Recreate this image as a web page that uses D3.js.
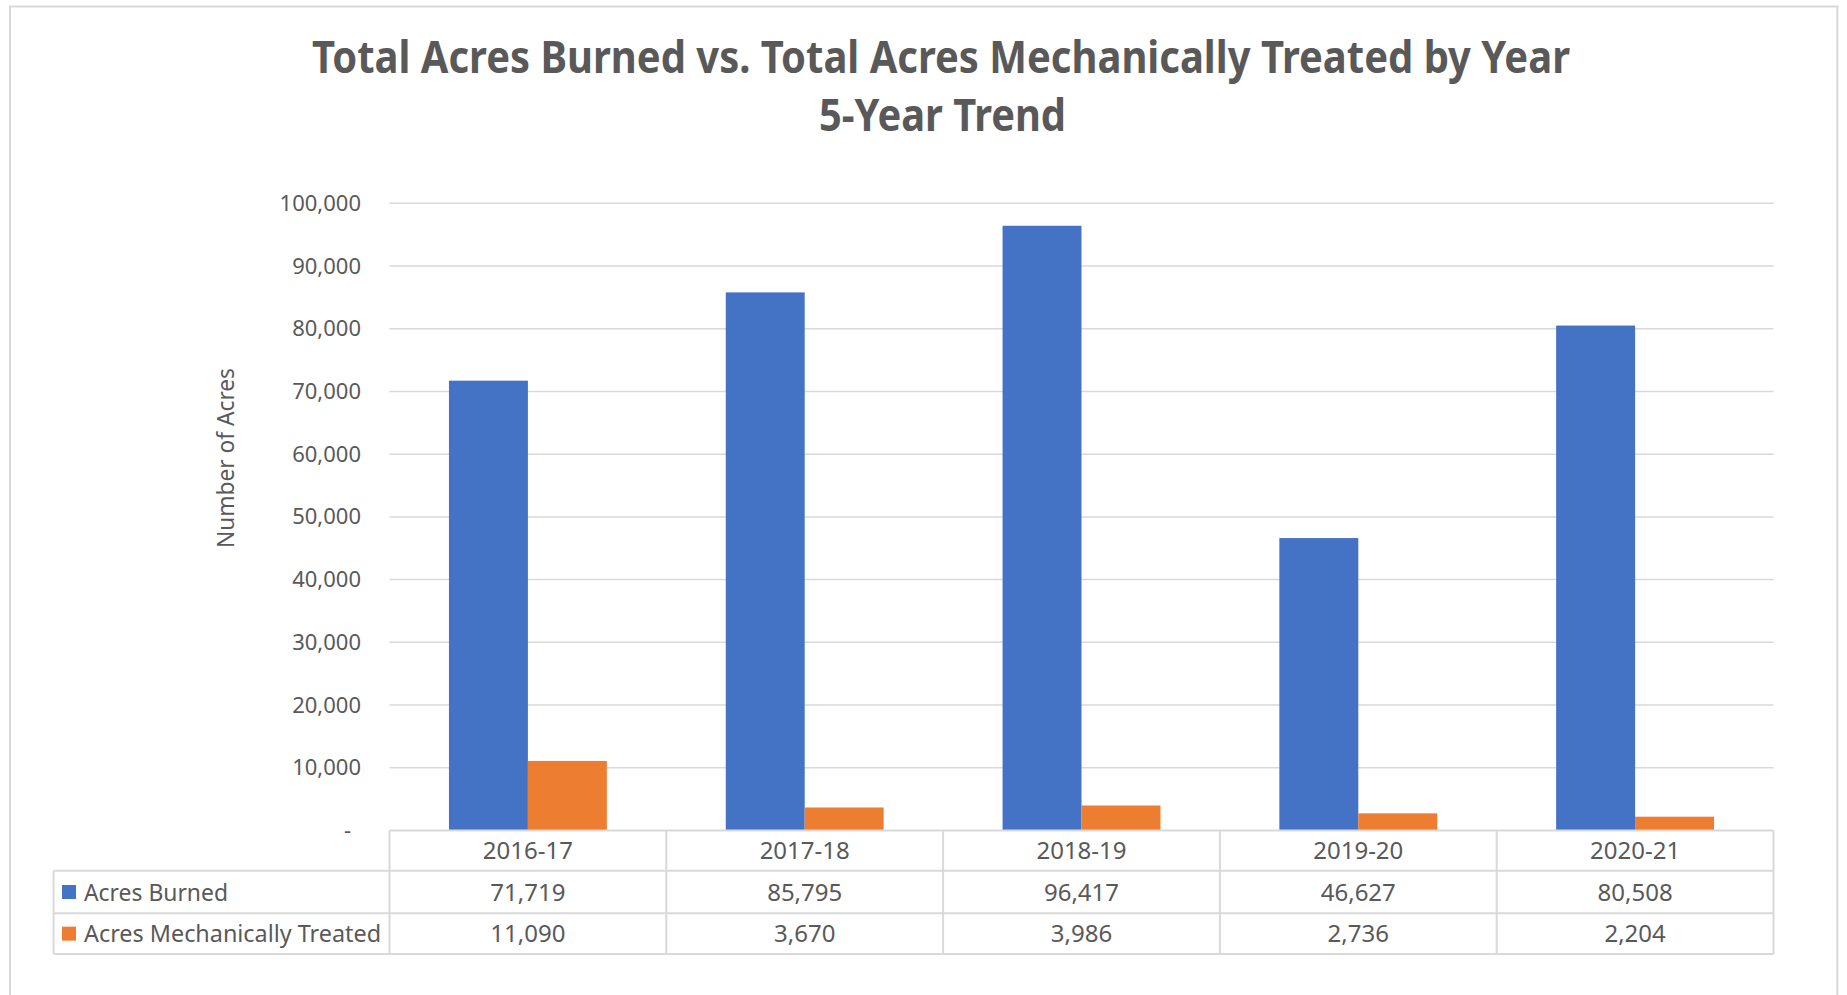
<!DOCTYPE html>
<html>
<head>
<meta charset="utf-8">
<script src="https://cdn.jsdelivr.net/npm/d3@7"></script>
<style>
  html, body { margin: 0; padding: 0; background: #fff; }
  svg { display: block; }
  text { font-family: "Noto Sans", "Open Sans", sans-serif; fill: #595959; }
</style>
</head>
<body>
<script>
const categories = ["2016-17", "2017-18", "2018-19", "2019-20", "2020-21"];
const seriesNames = ["Acres Burned", "Acres Mechanically Treated"];
const acresBurned = [71719, 85795, 96417, 46627, 80508];
const acresTreated = [11090, 3670, 3986, 2736, 2204];
const seriesColors = ["#4472C4", "#ED7D31"];
const yTicks = [0, 10000, 20000, 30000, 40000, 50000, 60000, 70000, 80000, 90000, 100000];
const titleLines = ["Total Acres Burned vs. Total Acres Mechanically Treated by Year", "5-Year Trend"];
const yAxisTitle = "Number of Acres";

const seriesValues = [acresBurned, acresTreated];
const legendLabelWidths = [144, 297];
const W = 1847, H = 995;
const plot = { left: 389.5, right: 1773.5, top: 203.3, bottom: 830.5 };
const tableRows = [830.5, 870.7, 913.3, 954];
const tableLeft = 53.6;
const grid = "#D9D9D9";

const svg = d3.select("body").append("svg").attr("width", W).attr("height", H);

// outer chart border
svg.append("path")
  .attr("d", `M10,${H + 5} L10,6.5 L1837.3,6.5 L1837.3,${H + 5}`)
  .attr("fill", "none").attr("stroke", grid).attr("stroke-width", 2);

// title
svg.append("text").attr("x", 941).attr("y", 72.5)
  .attr("text-anchor", "middle").attr("font-weight", "bold").attr("font-size", 44)
  .attr("textLength", 1258).attr("lengthAdjust", "spacingAndGlyphs")
  .text(titleLines[0]);
svg.append("text").attr("x", 942.5).attr("y", 131)
  .attr("text-anchor", "middle").attr("font-weight", "bold").attr("font-size", 44)
  .attr("textLength", 247).attr("lengthAdjust", "spacingAndGlyphs")
  .text(titleLines[1]);

const x0 = d3.scaleBand().domain(categories).range([plot.left, plot.right]).padding(0);
const bw = x0.bandwidth();
const x1 = d3.scaleBand().domain(seriesNames).range([bw * 0.2148, bw * (1 - 0.2148)]).padding(0);
const y = d3.scaleLinear().domain([0, 100000]).range([plot.bottom, plot.top]);

// gridlines
svg.append("g").selectAll("line").data(yTicks.filter(d => d > 0)).join("line")
  .attr("x1", plot.left).attr("x2", plot.right)
  .attr("y1", d => y(d)).attr("y2", d => y(d))
  .attr("stroke", grid).attr("stroke-width", 1.5);

// y axis labels
const yAxis = d3.axisLeft(y).tickValues(yTicks).tickSize(0).tickPadding(28.5)
  .tickFormat(d => d === 0 ? "-" : d3.format(",")(d));
const gy = svg.append("g").attr("transform", `translate(${plot.left},0)`).call(yAxis);
gy.select(".domain").remove();
gy.selectAll("text").style("font-family", '"Noto Sans", sans-serif')
  .attr("font-size", 22).attr("fill", "#595959")
  .attr("dx", d => d === 0 ? -10 : 0);

// y axis title
svg.append("text")
  .attr("transform", `translate(${226.7 + 7},458) rotate(-90)`)
  .attr("text-anchor", "middle").attr("font-size", 23)
  .attr("textLength", 180).attr("lengthAdjust", "spacingAndGlyphs")
  .text(yAxisTitle);

// bars
const groups = svg.append("g").selectAll("g").data(categories).join("g")
  .attr("transform", d => `translate(${x0(d)},0)`);
groups.selectAll("rect")
  .data((c, i) => seriesNames.map((s, j) => ({ s, v: seriesValues[j][i], j })))
  .join("rect")
  .attr("x", d => x1(d.s)).attr("width", x1.bandwidth())
  .attr("y", d => y(d.v)).attr("height", d => y(0) - y(d.v))
  .attr("fill", d => seriesColors[d.j]);

// data table
const tg = svg.append("g").attr("stroke", grid).attr("stroke-width", 2).attr("fill", "none");
tg.append("line").attr("x1", plot.left).attr("x2", plot.right).attr("y1", tableRows[0]).attr("y2", tableRows[0]);
tableRows.slice(1).forEach(ry => {
  tg.append("line").attr("x1", tableLeft).attr("x2", plot.right).attr("y1", ry).attr("y2", ry);
});
tg.append("line").attr("x1", tableLeft).attr("x2", tableLeft).attr("y1", tableRows[1]).attr("y2", tableRows[3]);
categories.concat([null]).forEach((c, i) => {
  const xx = c === null ? plot.right : x0(c);
  tg.append("line").attr("x1", xx).attr("x2", xx).attr("y1", tableRows[0]).attr("y2", tableRows[3]);
});

// header labels
svg.append("g").selectAll("text").data(categories).join("text")
  .attr("x", d => x0(d) + bw / 2)
  .attr("y", (tableRows[0] + tableRows[1]) / 2).attr("dy", "0.36em")
  .attr("text-anchor", "middle").attr("font-size", 24)
  .text(d => d);

// rows
seriesNames.forEach((s, j) => {
  const cy = (tableRows[j + 1] + tableRows[j + 2]) / 2;
  svg.append("rect").attr("x", 62).attr("y", cy - 7).attr("width", 14).attr("height", 14)
    .attr("fill", seriesColors[j]);
  svg.append("text").attr("x", 84).attr("y", cy).attr("dy", "0.36em")
    .attr("font-size", 24)
    .attr("textLength", legendLabelWidths[j]).attr("lengthAdjust", "spacingAndGlyphs")
    .text(s);
  svg.append("g").selectAll("text").data(categories).join("text")
    .attr("x", d => x0(d) + bw / 2).attr("y", cy).attr("dy", "0.36em")
    .attr("text-anchor", "middle").attr("font-size", 24)
    .text((d, i) => d3.format(",")(seriesValues[j][i]));
});
</script>
</body>
</html>
